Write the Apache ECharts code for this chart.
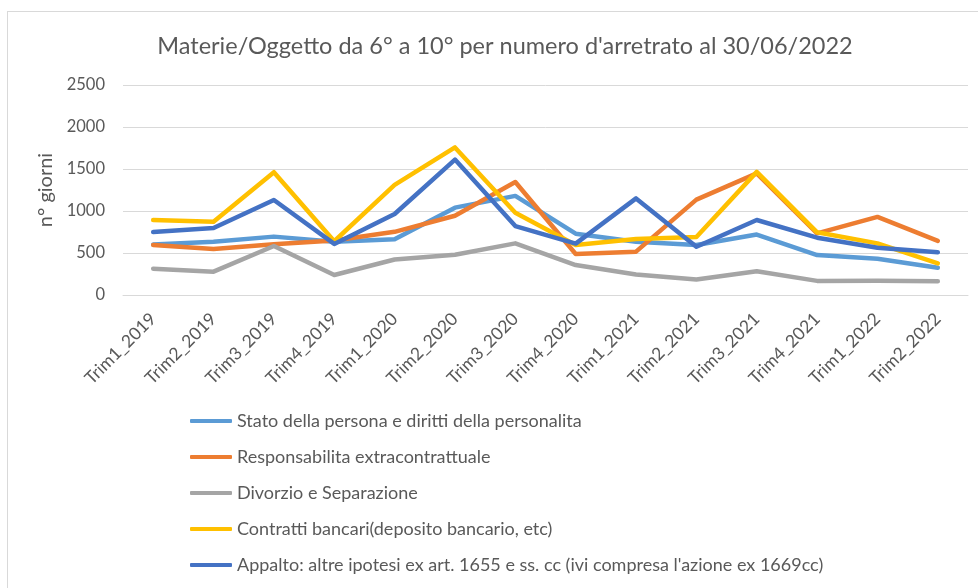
<!DOCTYPE html>
<html>
<head>
<meta charset="utf-8">
<script src="https://cdn.jsdelivr.net/npm/echarts@6/dist/echarts.min.js"></script>
<style>
html,body{margin:0;padding:0;background:#fff;}
#frame{position:absolute;left:7px;top:11px;width:1000px;height:700px;border:1px solid #d9d9d9;box-sizing:border-box;}
#chart{position:absolute;left:0;top:0;width:978px;height:588px;}
</style>
</head>
<body>
<div id="frame"></div>
<div id="chart"></div>
<script>
const categories = ["Trim1_2019","Trim2_2019","Trim3_2019","Trim4_2019","Trim1_2020","Trim2_2020","Trim3_2020","Trim4_2020","Trim1_2021","Trim2_2021","Trim3_2021","Trim4_2021","Trim1_2022","Trim2_2022"];
const seriesNames = [
  "Stato della persona e diritti della personalita",
  "Responsabilita extracontrattuale",
  "Divorzio e Separazione",
  "Contratti bancari(deposito bancario, etc)",
  "Appalto: altre ipotesi ex art. 1655 e ss. cc (ivi compresa l'azione ex 1669cc)"
];
const stato       = [600, 635, 695, 635, 665, 1040, 1180, 730, 635, 595, 720, 476, 432, 325];
const responsab   = [595, 548, 605, 648, 752, 944, 1345, 488, 516, 1135, 1448, 734, 930, 645];
const divorzio    = [313, 278, 583, 238, 422, 480, 615, 357, 245, 185, 283, 168, 170, 163];
const contratti   = [893, 873, 1462, 640, 1310, 1757, 980, 595, 667, 690, 1466, 746, 615, 377];
const appalto     = [750, 797, 1131, 608, 964, 1612, 821, 612, 1150, 575, 893, 682, 563, 508];
const colors = ["#5B9BD5","#ED7D31","#A5A5A5","#FFC000","#4472C4"];
const yTicks = { min: 0, max: 2500, interval: 500 };

const values = [stato, responsab, divorzio, contratti, appalto];
const font = "Lato, 'Noto Sans', sans-serif";
const chart = echarts.init(document.getElementById('chart'), null, {renderer:'canvas'});
chart.setOption({
  animation: false,
  color: colors,
  textStyle: { fontFamily: font, color: '#595959' },
  title: {
    text: "Materie/Oggetto da 6° a 10° per numero d'arretrato al 30/06/2022",
    left: 500, top: 29, textAlign: 'center',
    textStyle: { fontFamily: font, fontSize: 23.5, fontWeight: 'normal', color: '#595959' }
  },
  grid: { left: 123, right: 10, top: 85, bottom: 293, containLabel: false },
  xAxis: {
    type: 'category', data: categories, boundaryGap: true,
    axisLine: { show: true, lineStyle: { color: '#d9d9d9', width: 1 } },
    axisTick: { show: false },
    axisLabel: { rotate: 45, fontSize: 17.5, color: '#595959', fontFamily: font, margin: 21, interval: 0 }
  },
  yAxis: {
    type: 'value', min: yTicks.min, max: yTicks.max, interval: yTicks.interval,
    name: 'n° giorni', nameLocation: 'middle', nameGap: 48, nameRotate: 90,
    nameTextStyle: { fontSize: 20, color: '#595959', fontFamily: font },
    axisLine: { show: false }, axisTick: { show: false },
    axisLabel: { fontSize: 16.5, color: '#595959', fontFamily: font, margin: 18, formatter: v => String(v) },
    splitLine: { lineStyle: { color: '#d9d9d9', width: 1 } }
  },
  legend: {
    orient: 'vertical', left: 185, top: 407, itemGap: 18,
    icon: 'roundRect', itemWidth: 42, itemHeight: 4,
    textStyle: { fontSize: 18, lineHeight: 18, color: '#595959', fontFamily: font },
    data: seriesNames
  },
  series: seriesNames.map((n, i) => ({
    name: n, type: 'line', data: values[i],
    symbol: 'none', showSymbol: false,
    lineStyle: { width: 4.5, color: colors[i], join: 'round', cap: 'round' },
    itemStyle: { color: colors[i] },
    z: 2 + i
  }))
});
</script>
</body>
</html>
